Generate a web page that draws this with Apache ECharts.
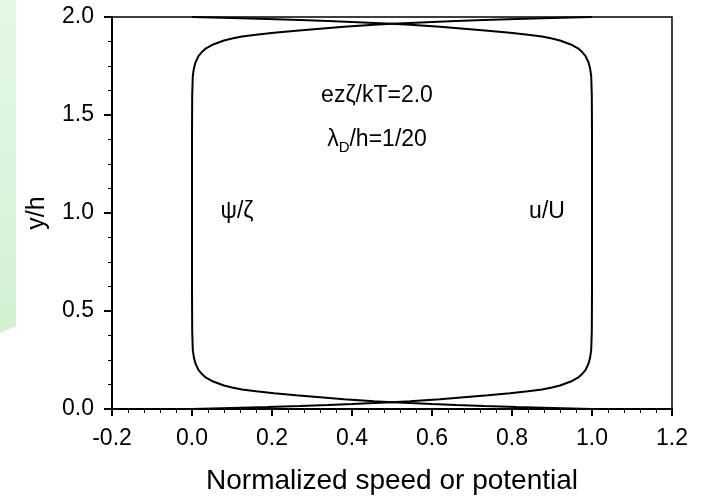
<!DOCTYPE html>
<html>
<head>
<meta charset="utf-8">
<script src="https://cdn.jsdelivr.net/npm/echarts@6/dist/echarts.min.js"></script>
<style>
html,body{margin:0;padding:0;background:#fff;}
#chart{width:704px;height:500px;}
</style>
</head>
<body>
<div id="chart"></div>
<script>
// y/h positions across the channel
var yVals = [0, 0.005, 0.01, 0.015, 0.02, 0.025, 0.03, 0.035, 0.04, 0.05, 0.06, 0.07, 0.08, 0.09, 0.10, 0.11, 0.12, 0.14, 0.16, 0.18, 0.20, 0.23, 0.26, 0.30, 0.40, 0.60, 1.00,
             1.40, 1.60, 1.70, 1.74, 1.77, 1.80, 1.82, 1.84, 1.86, 1.88, 1.89, 1.90, 1.91, 1.92, 1.93, 1.94, 1.95, 1.96, 1.965, 1.97, 1.975, 1.98, 1.985, 1.99, 1.995, 2.00];
// normalized potential psi/zeta
var psiVals = [1.00, 0.90, 0.81, 0.73, 0.66, 0.60, 0.545, 0.50, 0.455, 0.38, 0.32, 0.26, 0.205, 0.16, 0.125, 0.10, 0.08, 0.053, 0.035, 0.024, 0.016, 0.009, 0.005, 0.002, 0.0005, 0, 0,
               0, 0.0005, 0.002, 0.005, 0.009, 0.016, 0.024, 0.035, 0.053, 0.08, 0.10, 0.125, 0.16, 0.205, 0.26, 0.32, 0.38, 0.455, 0.50, 0.545, 0.60, 0.66, 0.73, 0.81, 0.90, 1.00];
// normalized speed u/U
var uVals = [0, 0.10, 0.19, 0.27, 0.34, 0.40, 0.455, 0.50, 0.545, 0.62, 0.68, 0.74, 0.795, 0.84, 0.875, 0.90, 0.92, 0.947, 0.965, 0.976, 0.984, 0.991, 0.995, 0.998, 0.9995, 1, 1,
             1, 0.9995, 0.998, 0.995, 0.991, 0.984, 0.976, 0.965, 0.947, 0.92, 0.90, 0.875, 0.84, 0.795, 0.74, 0.68, 0.62, 0.545, 0.50, 0.455, 0.40, 0.34, 0.27, 0.19, 0.10, 0];

var xTickLabels = ['-0.2', '0.0', '0.2', '0.4', '0.6', '0.8', '1.0', '1.2'];
var yTickLabels = ['0.0', '0.5', '1.0', '1.5', '2.0'];

var xTitle = 'Normalized speed or potential';
var yTitle = 'y/h';
var annot1 = 'ezζ/kT=2.0';
var psiLabel = 'ψ/ζ';
var uLabel = 'u/U';

function pairs(xs, ys) {
  var out = [];
  for (var i = 0; i < xs.length; i++) out.push([xs[i], ys[i]]);
  return out;
}

var FONT = 'Liberation Sans, Arial, sans-serif';
var chart = echarts.init(document.getElementById('chart'), null, {renderer: 'canvas'});

function fmt(list, min, step) {
  return function (v) {
    var idx = Math.round((v - min) / step);
    return list[idx] !== undefined ? list[idx] : '';
  };
}

var option = {
  animation: false,
  backgroundColor: '#fff',
  grid: {left: 112, right: 32, top: 17, bottom: 91, show: true, borderColor: '#000', borderWidth: 1.5, backgroundColor: 'transparent'},
  xAxis: {
    type: 'value', min: -0.2, max: 1.2, interval: 0.2,
    name: xTitle, nameLocation: 'middle', nameGap: 58,
    nameTextStyle: {fontFamily: FONT, fontSize: 28, color: '#000'},
    axisLine: {show: true, onZero: false, lineStyle: {color: '#000', width: 2}},
    axisTick: {show: true, inside: false, length: 7, lineStyle: {color: '#000', width: 2}},
    minorTick: {show: true, splitNumber: 5, length: 4, lineStyle: {color: '#000', width: 1}},
    axisLabel: {fontFamily: FONT, fontSize: 23, color: '#000', margin: 18, formatter: fmt(xTickLabels, -0.2, 0.2)},
    splitLine: {show: false}
  },
  yAxis: {
    type: 'value', min: 0, max: 2, interval: 0.5,
    name: yTitle, nameLocation: 'middle', nameGap: 62, nameRotate: 90,
    nameTextStyle: {fontFamily: FONT, fontSize: 25, color: '#000'},
    axisLine: {show: true, onZero: false, lineStyle: {color: '#000', width: 2}},
    axisTick: {show: true, inside: false, length: 8, lineStyle: {color: '#000', width: 2}},
    minorTick: {show: true, splitNumber: 4, length: 4, lineStyle: {color: '#000', width: 1}},
    axisLabel: {fontFamily: FONT, fontSize: 23, color: '#000', margin: 18, formatter: fmt(yTickLabels, 0, 0.5)},
    splitLine: {show: false}
  },
  series: [
    {name: psiLabel, type: 'line', data: pairs(psiVals, yVals), showSymbol: false, symbol: 'none',
     lineStyle: {color: '#000', width: 2}, smooth: false, clip: false},
    {name: uLabel, type: 'line', data: pairs(uVals, yVals), showSymbol: false, symbol: 'none',
     lineStyle: {color: '#000', width: 2}, smooth: false, clip: false}
  ],
  graphic: [
    {type: 'polygon', z: -10, silent: true,
     shape: {points: [[0, 0], [16, 0], [16, 326], [0, 333]]},
     style: {fill: new echarts.graphic.LinearGradient(0, 0, 0, 1, [{offset: 0, color: '#e4f8e4'}, {offset: 1, color: '#d3f0d3'}])}},
    {type: 'text', x: 377, y: 96, style: {text: annot1, fontFamily: FONT, fontSize: 23, fill: '#000', align: 'center', verticalAlign: 'middle'}},
    {type: 'text', x: 377, y: 140, style: {
      text: '{a|λ}{s|D}{a|/h=1/20}',
      align: 'center', verticalAlign: 'middle',
      rich: {
        a: {fontFamily: FONT, fontSize: 23, fill: '#000', color: '#000', lineHeight: 27, verticalAlign: 'middle'},
        s: {fontFamily: FONT, fontSize: 15, fill: '#000', color: '#000', lineHeight: 27, padding: [15, 0, 0, 0], verticalAlign: 'middle'}
      }}},
    {type: 'text', x: 237, y: 212, style: {text: psiLabel, fontFamily: FONT, fontSize: 23, fill: '#000', align: 'center', verticalAlign: 'middle'}},
    {type: 'text', x: 547, y: 212, style: {text: uLabel, fontFamily: FONT, fontSize: 23, fill: '#000', align: 'center', verticalAlign: 'middle'}}
  ]
};
chart.setOption(option);
</script>
</body>
</html>
